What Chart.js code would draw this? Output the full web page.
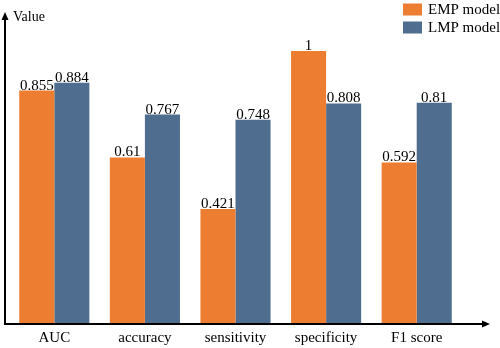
<!DOCTYPE html>
<html>
<head>
<meta charset="utf-8">
<script src="https://cdn.jsdelivr.net/npm/chart.js@4"></script>
<style>
  html, body { margin: 0; padding: 0; background: #fff; }
  #wrap { width: 500px; height: 348px; }
</style>
</head>
<body>
<div id="wrap"><canvas id="barChart"></canvas></div>
<script>
// ----------------- Data -----------------
const metrics = ['AUC', 'accuracy', 'sensitivity', 'specificity', 'F1 score'];
const empValues = [0.855, 0.61, 0.421, 1, 0.592];
const lmpValues = [0.884, 0.767, 0.748, 0.808, 0.81];
const seriesNames = ['EMP model', 'LMP model'];
const seriesColors = ['#ED7D31', '#4F6E8F'];
const axisTitle = 'Value';

const SERIF = '"Liberation Serif", "Times New Roman", serif';

// ----------------- Value labels on top of bars -----------------
const valueLabels = {
    id: 'valueLabels',
    afterDatasetsDraw(chart) {
        const ctx = chart.ctx;
        ctx.save();
        ctx.font = '15px ' + SERIF;
        ctx.fillStyle = '#000';
        ctx.textAlign = 'center';
        ctx.textBaseline = 'alphabetic';
        chart.data.datasets.forEach((ds, i) => {
            chart.getDatasetMeta(i).data.forEach((bar, j) => {
                ctx.fillText(String(ds.data[j]), bar.x, bar.y - 1);
            });
        });
        ctx.restore();
    }
};

// ----------------- Arrow axes, title and legend -----------------
const decorations = {
    id: 'decorations',
    afterDraw(chart) {
        const { ctx, chartArea, scales } = chart;
        const y0 = scales.y.getPixelForValue(0);
        const x0 = chartArea.left - 4;
        const xEnd = chart.width - 10;
        const yEnd = 12;

        ctx.save();
        ctx.strokeStyle = '#000';
        ctx.fillStyle = '#000';
        ctx.lineWidth = 2;
        ctx.beginPath();
        ctx.moveTo(x0, y0 + 1);
        ctx.lineTo(x0, yEnd + 5);
        ctx.moveTo(x0 - 1, y0);
        ctx.lineTo(xEnd - 6, y0);
        ctx.stroke();

        // arrow heads
        ctx.beginPath();
        ctx.moveTo(x0, yEnd);
        ctx.lineTo(x0 - 3.5, yEnd + 8);
        ctx.lineTo(x0 + 3.5, yEnd + 8);
        ctx.closePath();
        ctx.fill();
        ctx.beginPath();
        ctx.moveTo(xEnd, y0);
        ctx.lineTo(xEnd - 8, y0 - 3.5);
        ctx.lineTo(xEnd - 8, y0 + 3.5);
        ctx.closePath();
        ctx.fill();

        // axis title
        ctx.font = '14px ' + SERIF;
        ctx.textAlign = 'left';
        ctx.textBaseline = 'alphabetic';
        ctx.fillText(axisTitle, x0 + 8, 21);

        // legend
        ctx.font = '15px ' + SERIF;
        chart.data.datasets.forEach((ds, i) => {
            const top = 3.5 + i * 18;
            ctx.fillStyle = ds.backgroundColor;
            ctx.fillRect(403, top, 19, 12);
            ctx.fillStyle = '#000';
            ctx.fillText(ds.label, 428, top + 10.5);
        });
        ctx.restore();
    }
};

// ----------------- Bar Chart -----------------
const ctx = document.getElementById('barChart').getContext('2d');
new Chart(ctx, {
    type: 'bar',
    data: {
        labels: metrics,
        datasets: [{
            label: seriesNames[0],
            data: empValues,
            backgroundColor: seriesColors[0]
        }, {
            label: seriesNames[1],
            data: lmpValues,
            backgroundColor: seriesColors[1]
        }]
    },
    options: {
        responsive: true,
        maintainAspectRatio: false,
        animation: false,
        categoryPercentage: 0.774,
        barPercentage: 1,
        layout: { padding: { left: 9, right: 38, top: 51, bottom: 2 } },
        plugins: {
            legend: { display: false },
            tooltip: { enabled: false }
        },
        scales: {
            x: {
                grid: { display: false, drawTicks: false },
                border: { display: false },
                afterFit(scale) { scale.height = 22; },
                ticks: {
                    color: '#000',
                    padding: 7,
                    maxRotation: 0,
                    font: { family: SERIF, size: 15, lineHeight: 1 }
                }
            },
            y: {
                display: false,
                min: 0,
                max: 1
            }
        }
    },
    plugins: [valueLabels, decorations]
});
</script>
</body>
</html>
